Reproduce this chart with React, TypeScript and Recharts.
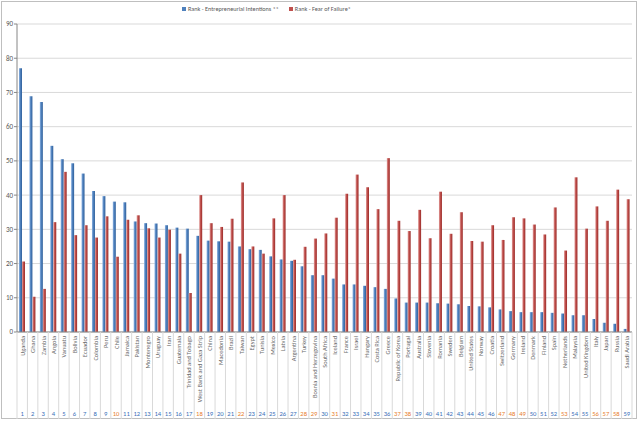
import React from 'react'
import { BarChart, Bar, XAxis, YAxis, CartesianGrid } from 'recharts'

const countries = [
  'Uganda', 'Ghana', 'Zambia', 'Angola', 'Vanuatu', 'Bolivia', 'Ecuador', 'Colombia', 'Peru', 'Chile',
  'Jamaica', 'Pakistan', 'Montenegro', 'Uruguay', 'Iran', 'Guatemala', 'Trinidad and Tobago',
  'West Bank and Gaza Strip', 'China', 'Macedonia', 'Brazil', 'Taiwan', 'Egypt', 'Tunisia', 'Mexico',
  'Latvia', 'Argentina', 'Turkey', 'Bosnia and Herzegovina', 'South Africa', 'Iceland', 'France',
  'Israel', 'Hungary', 'Costa Rica', 'Greece', 'Republic of Korea', 'Portugal', 'Australia', 'Slovenia',
  'Romania', 'Sweden', 'Belgium', 'United States', 'Norway', 'Croatia', 'Switzerland', 'Germany',
  'Ireland', 'Denmark', 'Finland', 'Spain', 'Netherlands', 'Malaysia', 'United Kingdom', 'Italy',
  'Japan', 'Russia', 'Saudi Arabia',
]

const intentionRank = [
  77.1, 68.9, 67.2, 54.4, 50.5, 49.3, 46.3, 41.2, 39.7, 38.1,
  37.9, 32.3, 31.8, 31.7, 31.2, 30.5, 30.2, 28.1, 26.7, 26.5,
  26.4, 25.0, 24.2, 24.0, 22.1, 21.2, 20.8, 19.2, 16.6, 16.6,
  15.6, 13.9, 13.9, 13.5, 13.1, 12.6, 9.8, 8.6, 8.6, 8.6,
  8.4, 8.3, 8.1, 7.6, 7.5, 7.2, 6.6, 6.1, 5.8, 5.8,
  5.8, 5.6, 5.4, 4.9, 4.9, 3.8, 2.7, 2.4, 0.9,
]

const fearRank = [
  20.6, 10.3, 12.6, 32.1, 46.8, 28.3, 31.2, 27.6, 33.8, 22.0,
  32.8, 34.1, 30.3, 27.6, 29.9, 22.9, 11.4, 40.0, 31.8, 30.7,
  33.1, 43.7, 25.0, 22.9, 33.2, 40.0, 21.1, 24.9, 27.3, 28.8,
  33.4, 40.4, 46.0, 42.3, 35.9, 50.8, 32.5, 29.5, 35.7, 27.4,
  41.0, 28.7, 35.0, 26.6, 26.4, 31.2, 26.9, 33.5, 33.2, 31.4,
  28.5, 36.4, 23.8, 45.2, 30.2, 36.7, 32.5, 41.6, 38.8,
]

const yTicks = [0, 10, 20, 30, 40, 50, 60, 70, 80, 90]

// rank numbers printed in orange in the bottom row
const orangeNumbers = [10, 18, 22, 28, 29, 31, 37, 38, 47, 48, 49, 53, 56, 57, 58]

const data = countries.map((country, i) => ({
  country,
  intention: intentionRank[i],
  fear: fearRank[i],
}))

const W = 640
const H = 421
const PLOT_LEFT = 17
const PLOT_RIGHT = 632
const AXIS_Y = 332
const FRAME_BOTTOM = 419
const BAND = (PLOT_RIGHT - PLOT_LEFT) / countries.length
const FONT = 'Carlito, Calibri, "Liberation Sans Narrow", "Liberation Sans", Arial, sans-serif'

function CountryTick(props: any) {
  const { x, payload } = props
  const i: number = payload.index
  const half = BAND / 2
  const last = i === countries.length - 1
  const orange = orangeNumbers.includes(i + 1)
  return (
    <g>
      <line x1={x - half} x2={x - half} y1={AXIS_Y} y2={FRAME_BOTTOM} stroke="#d9d9d9" />
      {last && <line x1={x + half} x2={x + half} y1={AXIS_Y} y2={FRAME_BOTTOM} stroke="#d9d9d9" />}
      <text
        transform={`translate(${x + 0.5},${AXIS_Y + 4}) rotate(-90)`}
        textAnchor="end"
        dominantBaseline="central"
        fontSize={6.4}
        fontFamily={FONT}
        fill="#6a6a6a"
      >
        {payload.value}
      </text>
      <text
        x={x}
        y={416}
        textAnchor="middle"
        fontSize={6.6}
        fontFamily={FONT}
        fill={orange ? '#e8802e' : '#3a6fb8'}
      >
        {i + 1}
      </text>
    </g>
  )
}

function LegendBox() {
  const item = (color: string, label: string) => (
    <span style={{ display: 'inline-flex', alignItems: 'center', marginRight: 10 }}>
      <span style={{ width: 4, height: 4, background: color, display: 'inline-block', marginRight: 2 }} />
      {label}
    </span>
  )
  return (
    <div
      style={{
        position: 'absolute', left: 182, top: 5, whiteSpace: 'nowrap',
        fontFamily: FONT, fontSize: 6.2, color: '#595959', lineHeight: '8px',
      }}
    >
      {item('#4f81bd', 'Rank - Entrepreneurial Intentions **')}
      {item('#c0504d', 'Rank - Fear of Failure*')}
    </div>
  )
}

export default function App() {
  return (
    <div style={{ position: 'absolute', left: 0, top: 0, width: W, height: H, background: '#fff' }}>
      <div
        style={{
          position: 'absolute', left: 1, top: 1, width: 636, height: 418,
          border: '1px solid #bfbfbf', boxSizing: 'border-box',
        }}
      />
      <BarChart
        width={W}
        height={H}
        data={data}
        barSize={3}
        barGap={0}
        margin={{ top: 24, right: W - PLOT_RIGHT, bottom: H - AXIS_Y - 80, left: 0 }}
        style={{ position: 'absolute', left: 0, top: 0 }}
      >
        <defs>
          <linearGradient id="gBlue" x1="0" x2="1" y1="0" y2="0">
            <stop offset="0%" stopColor="#8fb4e3" />
            <stop offset="45%" stopColor="#4f81bd" />
            <stop offset="100%" stopColor="#2f5f9a" />
          </linearGradient>
          <linearGradient id="gRed" x1="0" x2="1" y1="0" y2="0">
            <stop offset="0%" stopColor="#e3a3a1" />
            <stop offset="45%" stopColor="#c0504d" />
            <stop offset="100%" stopColor="#9a2c29" />
          </linearGradient>
        </defs>
        <CartesianGrid vertical={false} stroke="#d9d9d9" />
        <XAxis
          dataKey="country"
          interval={0}
          height={80}
          tickLine={false}
          axisLine={{ stroke: '#868686' }}
          tick={<CountryTick />}
        />
        <YAxis
          width={PLOT_LEFT}
          domain={[0, 90]}
          ticks={yTicks}
          interval={0}
          tickSize={3}
          tickMargin={1}
          axisLine={{ stroke: '#868686' }}
          tickLine={{ stroke: '#868686' }}
          tick={{ fontSize: 7, fill: '#595959', fontFamily: FONT }}
        />
        <Bar dataKey="intention" fill="url(#gBlue)" isAnimationActive={false} />
        <Bar dataKey="fear" fill="url(#gRed)" isAnimationActive={false} />
      </BarChart>
      <LegendBox />
    </div>
  )
}
